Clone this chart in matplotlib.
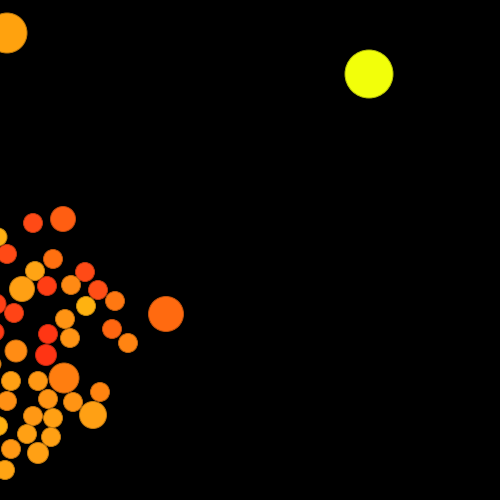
import numpy as np
import matplotlib.pyplot as plt
from matplotlib.colors import to_rgb

# bubble data (x, y, radius)
x = [7, 369, 33, 63, -2, 7, 53, 35, 85, 22, 47, 71, 98, -4, 14, 86, 115, 166, 65, -5,
     48, 70, 112, 128, 16, 46, -7, 64, 11, 38, 100, 7, 48, 73, 93, 33, 53, -2, 27, 51,
     11, 38, 5]
y = [33, 74, 223, 219, 237, 254, 259, 271, 272, 289, 286, 285, 290, 304, 313, 306, 301, 314, 319, 332,
     334, 338, 329, 343, 351, 355, 364, 378, 381, 381, 392, 401, 399, 402, 415, 416, 418, 426, 434, 437,
     449, 453, 470]
r = [20, 24, 9.5, 12.5, 9, 9.5, 9.5, 9.5, 9.5, 12.5, 9.5, 9.5, 9.5, 10, 9.5, 9.5, 9.5, 17.5, 9.5, 9,
     9.5, 9.5, 9.5, 9.5, 11, 10.5, 8, 15, 9.5, 9.5, 9.5, 9.5, 9.5, 9.5, 13.5, 9.5, 9.5, 9.5, 9.5, 9.5,
     9.5, 10.5, 9.5]
colors = ['#FFA20E', '#F2FF0A', '#FF4A16', '#FF5E12', '#FFB012', '#FF4A16', '#FF7010', '#FFA414',
          '#FF4A16', '#FFA014', '#FF3E14', '#FF8A14', '#FF4E16', '#FF4016', '#FF4416', '#FFB210',
          '#FF7812', '#FF6A10', '#FF9414', '#FF3A14', '#FF3614', '#FF9414', '#FF6610', '#FF8412',
          '#FF8C14', '#FF3414', '#FF9414', '#FF7E10', '#FFA014', '#FF9814', '#FF8410', '#FF9014',
          '#FF9414', '#FF9414', '#FFA014', '#FF9814', '#FFA014', '#FFB010', '#FFA014', '#FFA014',
          '#FF9814', '#FFA014', '#FFA414']

fig = plt.figure(figsize=(5, 5), dpi=100, facecolor='black')
ax = fig.add_axes([0, 0, 1, 1])
ax.set_facecolor('black')

sizes = (2 * np.array(r) * 0.72) ** 2
edges = [tuple(c * 0.75 for c in to_rgb(col)) for col in colors]
ax.scatter(x, y, s=sizes, c=colors, edgecolors=edges, linewidths=0.7)

ax.set_xlim(0, 500)
ax.set_ylim(500, 0)
ax.axis('off')

fig.savefig('out.png', facecolor='black')
